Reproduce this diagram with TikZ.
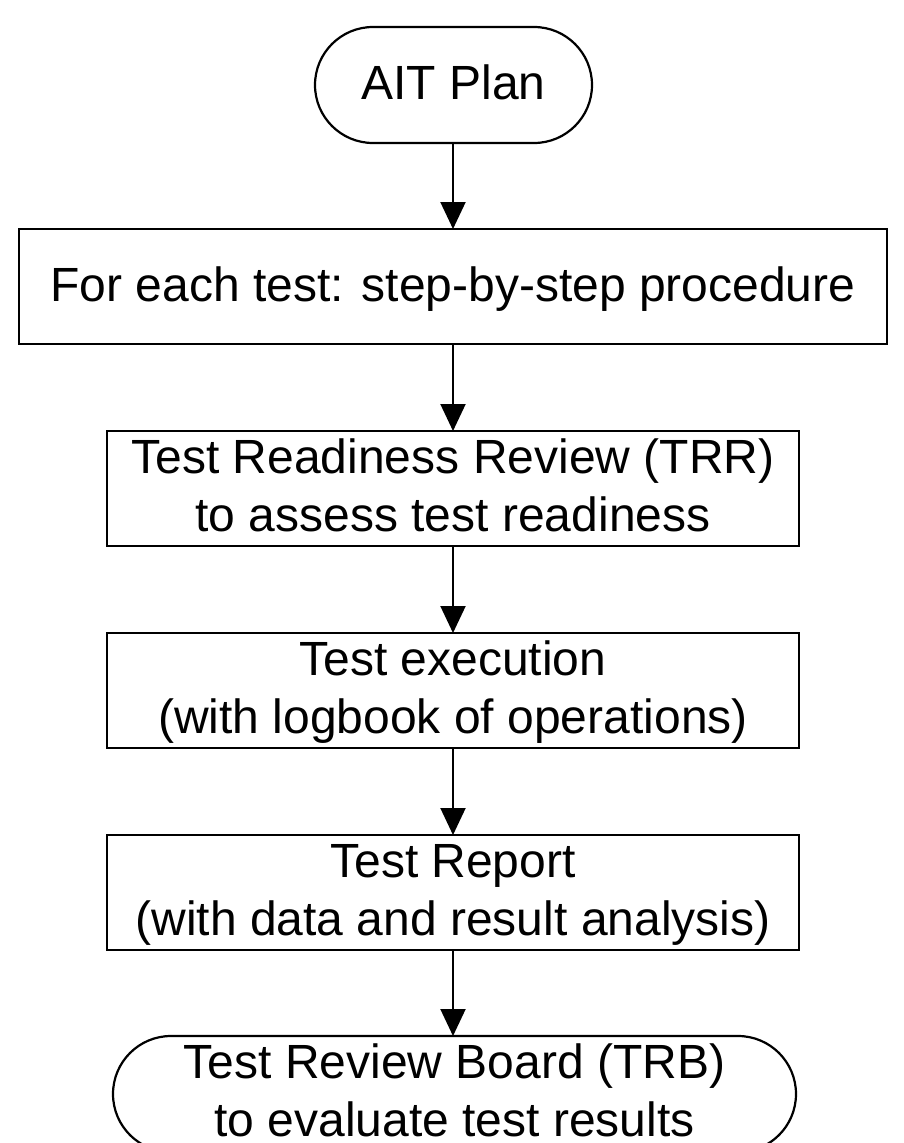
\documentclass[tikz,border=0pt]{standalone}
\usepackage{fontspec}
\setmainfont{Liberation Sans}
\usetikzlibrary{arrows.meta,shapes.misc}
\begin{document}
\begin{tikzpicture}[x=1pt,y=-1pt,
  box/.style={draw,line width=2.2pt,rectangle,inner sep=0pt,outer sep=0pt},
  term/.style={draw,line width=2.2pt,rounded rectangle,inner sep=0pt,outer sep=0pt},
  txt/.style={anchor=base,inner sep=0pt,font=\fontsize{48}{58}\selectfont},
  flow/.style={line width=2pt,-{Triangle[width=25pt,length=27pt]}}]
\useasboundingbox (0,0) rectangle (904,1143);
\clip (0,0) rectangle (904,1143);
% shapes
\node[term,minimum width=277pt,minimum height=116pt] (plan) at (453.5,85) {};
\node[box,minimum width=868pt,minimum height=115pt] (proc) at (453,286.5) {};
\node[box,minimum width=692pt,minimum height=115pt] (trr) at (453,488.5) {};
\node[box,minimum width=692pt,minimum height=115pt] (exec) at (453,690.5) {};
\node[box,minimum width=692pt,minimum height=115pt] (rep) at (453,892.5) {};
\node[term,minimum width=683pt,minimum height=116pt] (trb) at (454.5,1094) {};
% texts
\node[txt] (plant) at (453.5,99) {AIT Plan};
\node[txt] (proct) at (453,301) {For each test: step-by-step procedure};
\node[txt] (trrta) at (453,473) {Test Readiness Review (TRR)};
\node[txt] (trrtb) at (453,531) {to assess test readiness};
\node[txt] (execta) at (453,675) {Test execution};
\node[txt] (exectb) at (453,733) {(with logbook of operations)};
\node[txt] (repta) at (453,877) {Test Report};
\node[txt] (reptb) at (453,935) {(with data and result analysis)};
\node[txt] (trbta) at (454.5,1078) {Test Review Board (TRB)};
\node[txt] (trbtb) at (454.5,1136) {to evaluate test results};
% connectors
\draw[flow] (plan.south -| proc.north) -- (proc.north);
\draw[flow] (proc.south) -- (trr.north);
\draw[flow] (trr.south) -- (exec.north);
\draw[flow] (exec.south) -- (rep.north);
\draw[flow] (rep.south) -- (rep.south |- trb.north);
\end{tikzpicture}
\end{document}
